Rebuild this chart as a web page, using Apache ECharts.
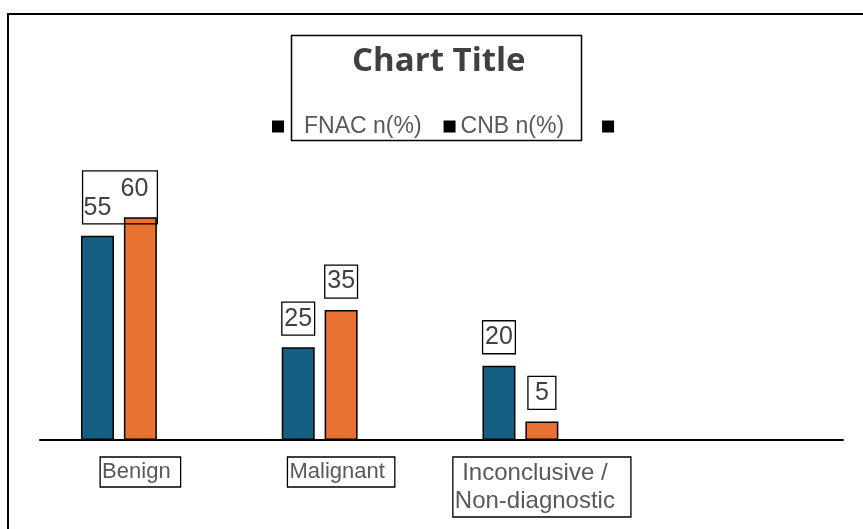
<!DOCTYPE html>
<html>
<head>
<meta charset="utf-8">
<script src="https://cdn.jsdelivr.net/npm/echarts@6/dist/echarts.min.js"></script>
<style>
  html, body { margin: 0; padding: 0; background: #fff; }
  #chart { width: 863px; height: 529px; }
</style>
</head>
<body>
<div id="chart"></div>
<script>
// Diagnostic outcome by sampling method
const categories = ['Benign', 'Malignant', 'Inconclusive /\nNon-diagnostic', ''];
const seriesNames = ['FNAC n(%)', 'CNB n(%)', ' '];
const fnacValues = [55, 25, 20];
const cnbValues = [60, 35, 5];
const thirdValues = [null, null, null];

const FONT = '"Liberation Sans", Arial, sans-serif';
const BLUE = '#156082';
const ORANGE = '#E97132';

const labelBase = {
  show: true,
  position: 'top',
  distance: 12,
  fontFamily: FONT,
  fontSize: 25,
  lineHeight: 27,
  color: '#404040',
  borderColor: '#000',
  borderWidth: 1.3,
  padding: [3, 2.5, 3, 2.5]
};

// Benign labels share one frame drawn around the FNAC label
const fnacData = fnacValues.map((v, i) => i === 0
  ? { value: v, label: { padding: [24, 46, 2, 1], offset: [22.5, 0] } }
  : v);
const cnbData = cnbValues.map((v, i) => {
  if (i === 0) return { value: v, label: { borderWidth: 0, offset: [-6, 0] } };
  if (v < 10) return { value: v, label: { padding: [3, 7, 3, 7] } };
  return v;
});

const axisCats = categories.map(c => {
  if (c === '') return { value: c, textStyle: { borderWidth: 0, padding: 0 } };
  if (c.indexOf('\n') >= 0) return { value: c, textStyle: { fontSize: 24, lineHeight: 28, padding: [2, 16, 2, 2] } };
  return c;
});

const chart = echarts.init(document.getElementById('chart'), null, { renderer: 'canvas' });
chart.setOption({
  backgroundColor: '#fff',
  animation: false,
  title: {
    text: 'Chart Title',
    left: 352,
    top: 42,
    padding: 0,
    textStyle: {
      fontFamily: '"Open Sans", sans-serif',
      fontWeight: 700,
      fontSize: 33,
      lineHeight: 40,
      color: '#404040'
    }
  },
  legend: {
    left: 272,
    top: 115,
    padding: 0,
    icon: 'rect',
    itemWidth: 12,
    itemHeight: 12,
    itemGap: 22,
    itemStyle: { color: '#000', borderWidth: 0 },
    textStyle: { fontFamily: FONT, fontSize: 23, lineHeight: 22, color: '#595959' },
    data: [
      { name: seriesNames[0], textStyle: { padding: [0, 0, 0, 15] } },
      { name: seriesNames[1], textStyle: { padding: [0, 16, 0, 0] } },
      { name: seriesNames[2] }
    ]
  },
  grid: { left: 40, right: 20, top: 143, bottom: 89 },
  xAxis: {
    type: 'category',
    data: axisCats,
    axisLine: { show: true, lineStyle: { color: '#000', width: 2 } },
    axisTick: { show: false },
    splitLine: { show: false },
    axisLabel: {
      interval: 0,
      margin: 17,
      fontFamily: FONT,
      fontSize: 22,
      lineHeight: 28,
      color: '#595959',
      borderColor: '#000',
      borderWidth: 1.3,
      padding: [1, 10, 1, 2]
    }
  },
  yAxis: { type: 'value', min: 0, max: 80, show: false },
  series: [
    {
      name: seriesNames[0], type: 'bar', data: fnacData,
      barWidth: 33, barGap: '30%',
      itemStyle: { color: BLUE, borderColor: '#000', borderWidth: 1.5 },
      label: labelBase
    },
    {
      name: seriesNames[1], type: 'bar', data: cnbData,
      barWidth: 33, barGap: '30%',
      itemStyle: { color: ORANGE, borderColor: '#000', borderWidth: 1.5 },
      label: labelBase
    },
    {
      name: seriesNames[2], type: 'bar', data: thirdValues,
      barWidth: 33, barGap: '30%',
      itemStyle: { color: '#000' }
    }
  ],
  graphic: [
    {
      type: 'rect', silent: true, z: 100,
      shape: { x: 8, y: 14, width: 1000, height: 1000 },
      style: { fill: 'none', stroke: '#000', lineWidth: 2 }
    },
    {
      type: 'rect', silent: true, z: 100,
      shape: { x: 291.5, y: 35.5, width: 290, height: 105 },
      style: { fill: 'none', stroke: '#000', lineWidth: 1.5 }
    }
  ]
});
</script>
</body>
</html>
